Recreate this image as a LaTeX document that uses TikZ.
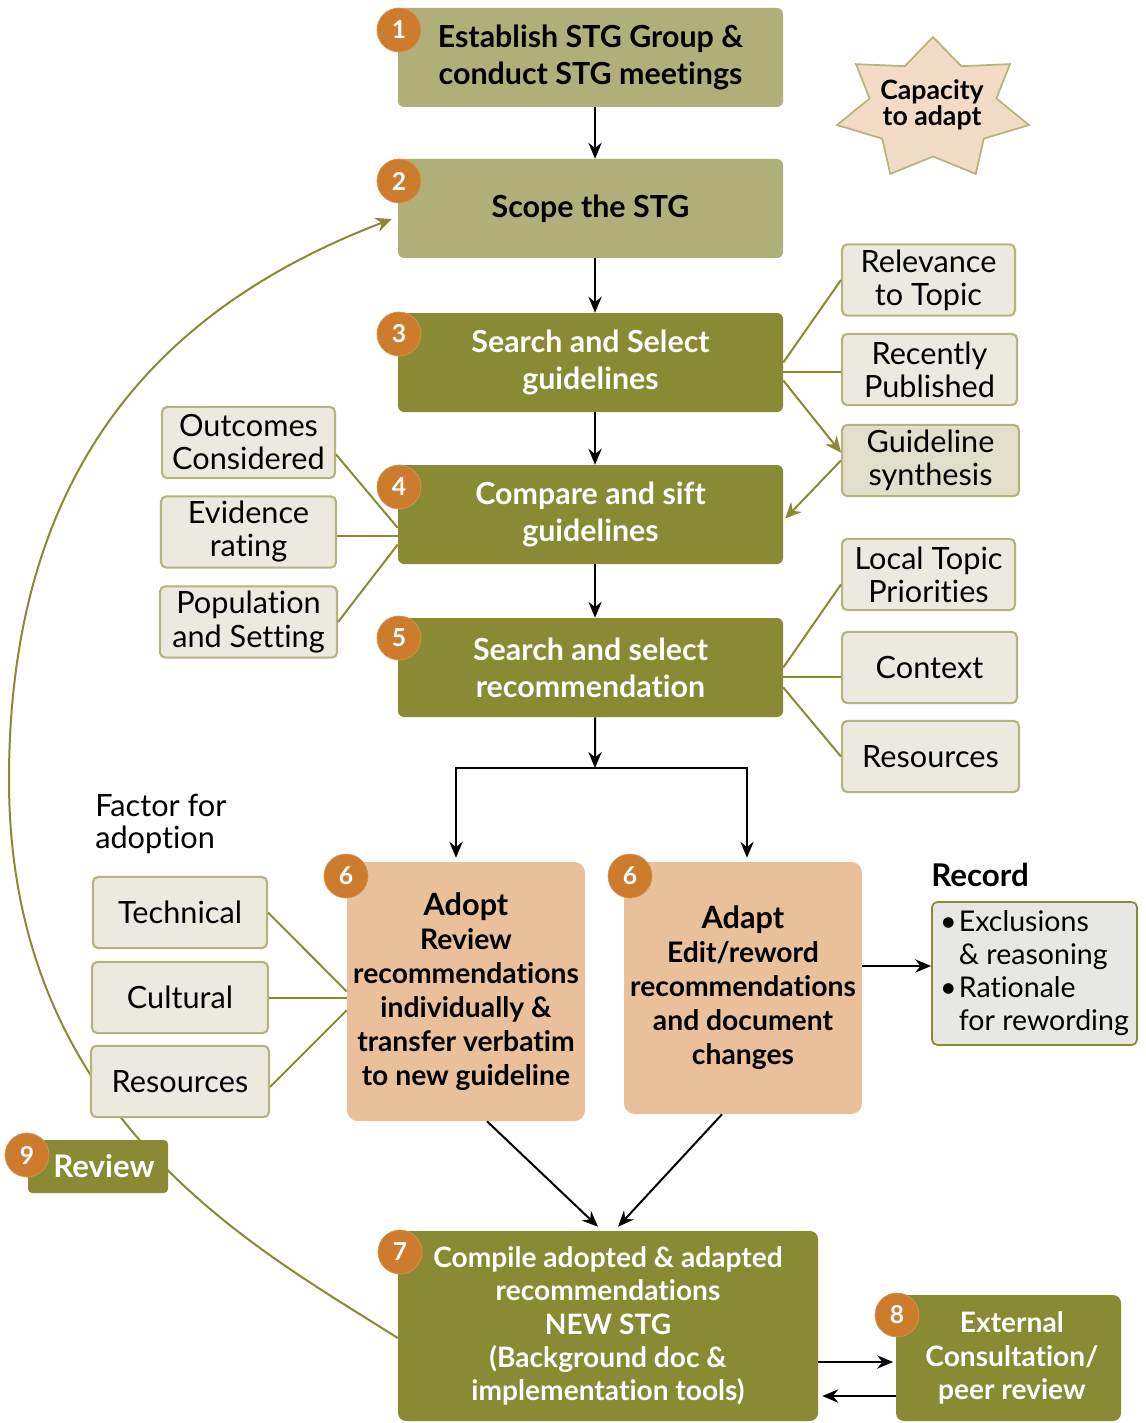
\documentclass[tikz,border=0pt]{standalone}
\usepackage{fontspec}
\setmainfont{Lato}[Ligatures=CommonOff]
\usetikzlibrary{arrows.meta,calc}
\definecolor{khaki}{HTML}{B1AF79}
\definecolor{olive}{HTML}{8A8934}
\definecolor{lightf}{HTML}{ECEADF}
\definecolor{lightb}{HTML}{B6B47E}
\definecolor{synf}{HTML}{E1DFCB}
\definecolor{peach}{HTML}{E9C09A}
\definecolor{badgec}{HTML}{CD7B2D}
\definecolor{starf}{HTML}{F2DCC6}
\definecolor{recf}{HTML}{E7E7E4}
\begin{document}
\begin{tikzpicture}[x=0.75pt,y=-0.75pt,
 mainbox/.style={rectangle, rounded corners=4.5pt, align=center, inner sep=0pt, minimum width=288.75pt, minimum height=74.25pt, font=\bfseries\fontsize{22.8}{27.75}\selectfont},
 pale/.style={mainbox, fill=khaki, text=black},
 dark/.style={mainbox, fill=olive, text=white},
 light/.style={rectangle, rounded corners=4pt, draw=lightb, line width=1.6pt, fill=lightf, align=center, inner sep=0pt, minimum height=53.5pt, font=\fontsize{23}{24.75}\selectfont},
 peachbox/.style={rectangle, rounded corners=8pt, fill=peach, align=center, inner sep=0pt, minimum width=178.5pt, font=\bfseries\fontsize{21.2}{25.5}\selectfont},
 numbadge/.style={circle, fill=badgec, draw=badgec!80!white, line width=0.5pt, minimum size=33pt, inner sep=0pt, text=white, font=\bfseries\fontsize{18.5}{18.5}\selectfont},
 arr/.style={-{Stealth[length=12pt,width=10pt,inset=4pt]}, line width=1.5pt, black},
 link/.style={olive, line width=1.5pt},
 linkarr/.style={link, -{Stealth[length=12pt,width=11pt,inset=4pt]}},
 darkbody/.style={rectangle, rounded corners=6pt, fill=olive, text=white, align=center, inner sep=0pt, font=\bfseries\fontsize{21.1}{25}\selectfont}
]
\useasboundingbox (0,0) rectangle (1145,1423);

% main column
\node[pale] (b1) at (590.5,57.5) {Establish STG Group \&\\conduct STG meetings};
\node[pale] (b2) at (590.5,208.5) {Scope the STG};
\node[dark] (b3) at (590.5,362.5) {Search and Select\\guidelines};
\node[dark] (b4) at (590.5,514.5) {Compare and sift\\guidelines};
\node[dark] (b5) at (590.5,667.5) {Search and select\\recommendation};

% star
\filldraw[fill=starf, draw=lightb, line width=1.3pt, shift={(933,109)}, xscale=98.5, yscale=72]
  (-90:1) \foreach \i in {0,...,6}{ -- ({-90+\i*360/7+180/7}:0.66) -- ({-90+(\i+1)*360/7}:1) } -- cycle;
\node[align=center, inner sep=0pt, font=\bfseries\fontsize{20}{19.5}\selectfont] (cap) at (932,105) {Capacity\\to adapt};

% right factor boxes
\node[light, minimum width=129.75pt] (rel) at (928.5,280) {Relevance\\to Topic};
\node[light, minimum width=131.25pt] (rec) at (929.5,369.5) {Recently\\Published};
\node[light, minimum width=132.75pt, fill=synf] (syn) at (930.5,460.5) {Guideline\\synthesis};
\node[light, minimum width=129.75pt] (loc) at (928.5,574.5) {Local Topic\\Priorities};
\node[light, minimum width=131.25pt] (ctx) at (929.5,667.5) {Context};
\node[light, minimum width=132.75pt] (resa) at (930.5,756.5) {Resources};

% left factor boxes
\node[light, minimum width=129.75pt] (out) at (248.5,442.5) {Outcomes\\Considered};
\node[light, minimum width=131.25pt] (evi) at (248.5,532) {Evidence\\rating};
\node[light, minimum width=132.75pt] (pop) at (248.5,622) {Population\\and Setting};

\node[anchor=west, align=left, inner sep=0pt, font=\fontsize{23}{24}\selectfont] (factor) at (95,824) {Factor for\\adoption};
\node[light, minimum width=130.5pt] (tech) at (180,912.5) {Technical};
\node[light, minimum width=132pt] (cult) at (180,997.5) {Cultural};

% step 6 boxes
\node[peachbox, minimum height=194.25pt] (adopt) at (466,991.5) {{\bfseries\fontsize{23}{28}\selectfont Adopt}\\Review\\recommendations\\individually \&\\transfer verbatim\\to new guideline};
\node[peachbox, minimum height=189pt] (adapt) at (743,988) {{\bfseries\fontsize{23}{28}\selectfont Adapt}\\Edit/reword\\recommendations\\and document\\changes};

% record
\node[anchor=west, inner sep=0pt, font=\bfseries\fontsize{23.5}{24}\selectfont] (rectitle) at (931,875) {Record};
\node[rectangle, rounded corners=4pt, draw=olive, line width=1.3pt, fill=recf, align=left, inner sep=0pt, minimum width=153.75pt, minimum height=107.25pt, font=\fontsize{21.4}{24.75}\selectfont] (record) at (1034.5,973.5)
  {\makebox[14pt][l]{\textbullet}Exclusions\\\hspace*{14pt}\& reasoning\\\makebox[14pt][l]{\textbullet}Rationale\\\hspace*{14pt}for rewording};

% step 7, 8
\node[darkbody, minimum width=315pt, minimum height=142.5pt] (b7) at (608,1326) {Compile adopted \& adapted\\recommendations\\NEW STG\\(Background doc \&\\implementation tools)};
\node[darkbody, minimum width=168.75pt, minimum height=94.5pt] (b8) at (1008.5,1358) {\hspace*{5pt}External\\\hspace*{5pt}Consultation/\\\hspace*{5pt}peer review};

% feedback curve (behind boxes)
\draw[linkarr] ([yshift=-9pt]b7.west) .. controls (260,1250) and (9,1120) .. (9,780)
   .. controls (9,450) and (180,300) .. ([xshift=-4.5pt,yshift=-7.9pt]b2.west);

\node[light, minimum width=133.5pt] (resb) at (180,1081.5) {Resources};
\node[rectangle, rounded corners=3pt, fill=olive, text=white, inner sep=0pt, minimum width=105pt, minimum height=39.75pt, font=\bfseries\fontsize{23.4}{24}\selectfont] (rev) at (98,1166.5) {\hspace*{9pt}Review};

% black arrows main column
\draw[arr] ([xshift=3.4pt]b1.south) -- ([xshift=3.4pt]b2.north);
\draw[arr] ([xshift=3.4pt]b2.south) -- ([xshift=3.4pt]b3.north);
\draw[arr] ([xshift=3.4pt]b3.south) -- ([xshift=3.4pt]b4.north);
\draw[arr] ([xshift=3.4pt]b4.south) -- ([xshift=3.4pt]b5.north);
\coordinate (split) at (595,768);
\draw[arr] ([xshift=3.4pt]b5.south) -- (split);
\draw[arr] (split) -| ([xshift=-7.5pt,yshift=3pt]adopt.north);
\draw[arr] (split) -| ([xshift=3pt,yshift=3pt]adapt.north);
\draw[arr] ([xshift=15.75pt]adopt.south) -- ([xshift=-7.5pt,yshift=3pt]b7.north);
\draw[arr] ([xshift=-15.75pt]adapt.south) -- ([xshift=7.5pt,yshift=3pt]b7.north);
\draw[arr] ([yshift=16.5pt]adapt.east) -- ([yshift=16.5pt]adapt.east -| record.west);
\draw[arr] ([yshift=-3pt]b8.west -| b7.east) -- ([xshift=-2pt,yshift=-3pt]b8.west);
\draw[arr] ([yshift=-28.5pt]b8.west) -- ([xshift=3pt,yshift=-28.5pt]b8.west -| b7.east);

% olive factor links
\draw[link] (b3.east) -- (rel.west);
\draw[link] ([yshift=-6.75pt]b3.east) -- ([yshift=-6.75pt]b3.east -| rec.west);
\draw[linkarr] ([yshift=-13.5pt]b3.east) -- ([yshift=6pt]syn.west);
\draw[linkarr] (syn.west) -- ([xshift=1.5pt,yshift=-3pt]b4.east);
\draw[link] ([yshift=-9pt]out.east) -- ([yshift=-10pt]b4.west);
\draw[link] ([yshift=-3pt]evi.east) -- ([yshift=-3pt]evi.east -| b4.west);
\draw[link] (pop.east) -- ([yshift=-22.5pt]b4.west);
\draw[link] (b5.east) -- ([yshift=-7.5pt]loc.west);
\draw[link] ([yshift=-6.75pt]b5.east) -- ([yshift=-6.75pt]b5.east -| ctx.west);
\draw[link] ([yshift=-15pt]b5.east) -- (resa.west);
\draw[link] (tech.east) -- (adopt.west);
\draw[link] (cult.east) -- (cult.east -| adopt.west);
\draw[link] ([yshift=-4pt]resb.east) -- ([yshift=-14pt]adopt.west);

% number badges
\node[numbadge] (n1) at (399,30) {1};
\node[numbadge] (n2) at (399,181) {2};
\node[numbadge] (n3) at (399,334) {3};
\node[numbadge] (n4) at (399,487) {4};
\node[numbadge] (n5) at (399,638) {5};
\node[numbadge] (n6a) at (346,876) {6};
\node[numbadge] (n6b) at (630,876) {6};
\node[numbadge] (n7) at (400,1252) {7};
\node[numbadge] (n8) at (897,1315) {8};
\node[numbadge] (n9) at (27,1155) {9};
\end{tikzpicture}
\end{document}
